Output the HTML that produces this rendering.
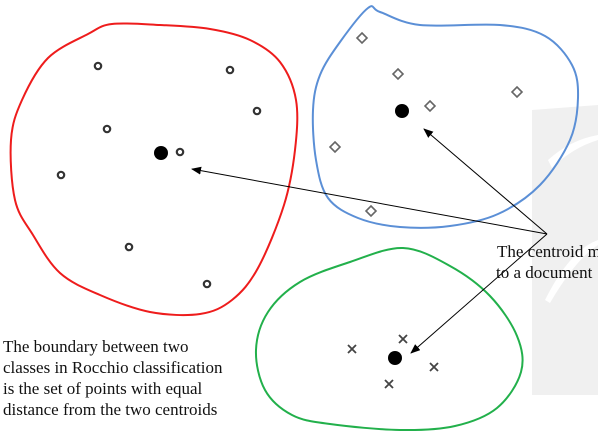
<!DOCTYPE html>
<html><head><meta charset="utf-8"><style>
html,body{margin:0;padding:0;background:#fff;}
svg{display:block;}
text{font-family:"Liberation Serif",serif;font-size:17px;fill:#111;}
</style></head><body>
<svg width="598" height="438" viewBox="0 0 598 438">
<defs><marker id="ah" markerWidth="10" markerHeight="8" refX="9" refY="4" orient="auto" markerUnits="userSpaceOnUse"><path d="M0,0 L10,4 L0,8 Z" fill="#000"/></marker></defs>
<g>
<path d="M532,110 L598,105 L598,395 L532,395 Z" fill="#f0f0f0"/>
<path d="M548,160 Q570,140 598,135 L598,140 Q572,148 552,168 Z" fill="#fff"/>
<path d="M545,300 Q570,250 598,240 L598,245 Q575,260 550,303 Z" fill="#fff"/>
</g>
<g id="blobs"></g>
<g id="marks"></g>
<g stroke="#000" stroke-width="1" fill="none">
<line x1="547" y1="234" x2="192" y2="169" marker-end="url(#ah)"/>
<line x1="547" y1="234" x2="424" y2="129" marker-end="url(#ah)"/>
<line x1="547" y1="234" x2="411" y2="353" marker-end="url(#ah)"/>
</g>
<text x="497" y="257">The centroid m</text>
<text x="496" y="278">to a document</text>
<text x="3" y="352">The boundary between two</text>
<text x="3" y="373">classes in Rocchio classification</text>
<text x="3" y="394">is the set of points with equal</text>
<text x="3" y="415">distance from the two centroids</text>
</svg>
<script>
const circleX=[98,230,257,107,180,61,129,207];
const circleY=[66,70,111,129,152,175,247,284];
const diamondX=[362,398,430,517,335,371];
const diamondY=[38,74,106,92,147,211];
const crossX=[403,352,434,389];
const crossY=[339,349,367,384];
const centroidX=[161,402,395];
const centroidY=[153,111,358];
const NS='http://www.w3.org/2000/svg';
const blobs=document.getElementById('blobs');
const marks=document.getElementById('marks');
function smooth(pts){let d='M'+pts[0][0]+','+pts[0][1];const n=pts.length;
for(let i=0;i<n;i++){const p0=pts[(i-1+n)%n],p1=pts[i],p2=pts[(i+1)%n],p3=pts[(i+2)%n];
d+=' C'+(p1[0]+(p2[0]-p0[0])/6)+','+(p1[1]+(p2[1]-p0[1])/6)+' '+(p2[0]-(p3[0]-p1[0])/6)+','+(p2[1]-(p3[1]-p1[1])/6)+' '+p2[0]+','+p2[1];}
return d+'Z';}
const redB=[[88,34],[112,24],[160,25],[210,29],[250,40],[280,62],[296,100],[295,150],[284,205],[258,268],[232,300],[200,314],[150,312],[100,295],[60,273],[33,235],[15,200],[11,140],[22,100],[48,58]];
const blueB=[[368,8],[380,12],[420,25],[500,25],[545,36],[572,65],[578,98],[570,140],[540,185],[498,214],[450,226],[400,227],[358,218],[328,198],[316,160],[313,110],[320,75],[340,42]];
const greenB=[[403,248],[350,262],[300,282],[268,312],[256,350],[265,390],[292,415],[330,424],[400,430],[455,426],[497,408],[521,372],[517,336],[490,296],[450,266]];
[[redB,'#ee1c1c','red-class-boundary'],[blueB,'#5b8fd6','blue-class-boundary'],[greenB,'#22b04b','green-class-boundary']].forEach(b=>{
const p=document.createElementNS(NS,'path');p.setAttribute('d',smooth(b[0]));p.setAttribute('fill','none');p.setAttribute('stroke',b[1]);p.setAttribute('stroke-width','2');


blobs.appendChild(p);});
for(let i=0;i<circleX.length;i++){const c=document.createElementNS(NS,'circle');c.setAttribute('cx',circleX[i]);c.setAttribute('cy',circleY[i]);c.setAttribute('r',3.2);c.setAttribute('fill','#fff');c.setAttribute('stroke','#333');c.setAttribute('stroke-width','2.2');


marks.appendChild(c);}
for(let i=0;i<diamondX.length;i++){const x=diamondX[i],y=diamondY[i];const p=document.createElementNS(NS,'path');p.setAttribute('d',`M${x},${y-5}L${x+5},${y}L${x},${y+5}L${x-5},${y}Z`);p.setAttribute('fill','#fff');p.setAttribute('stroke','#666');p.setAttribute('stroke-width','1.6');


marks.appendChild(p);}
for(let i=0;i<crossX.length;i++){const x=crossX[i],y=crossY[i];const p=document.createElementNS(NS,'path');p.setAttribute('d',`M${x-4},${y-4}L${x+4},${y+4}M${x+4},${y-4}L${x-4},${y+4}`);p.setAttribute('stroke','#444');p.setAttribute('stroke-width','1.8');


marks.appendChild(p);}
for(let i=0;i<centroidX.length;i++){const c=document.createElementNS(NS,'circle');c.setAttribute('cx',centroidX[i]);c.setAttribute('cy',centroidY[i]);c.setAttribute('r',7);c.setAttribute('fill','#000');


marks.appendChild(c);}
</script>
</body></html>
